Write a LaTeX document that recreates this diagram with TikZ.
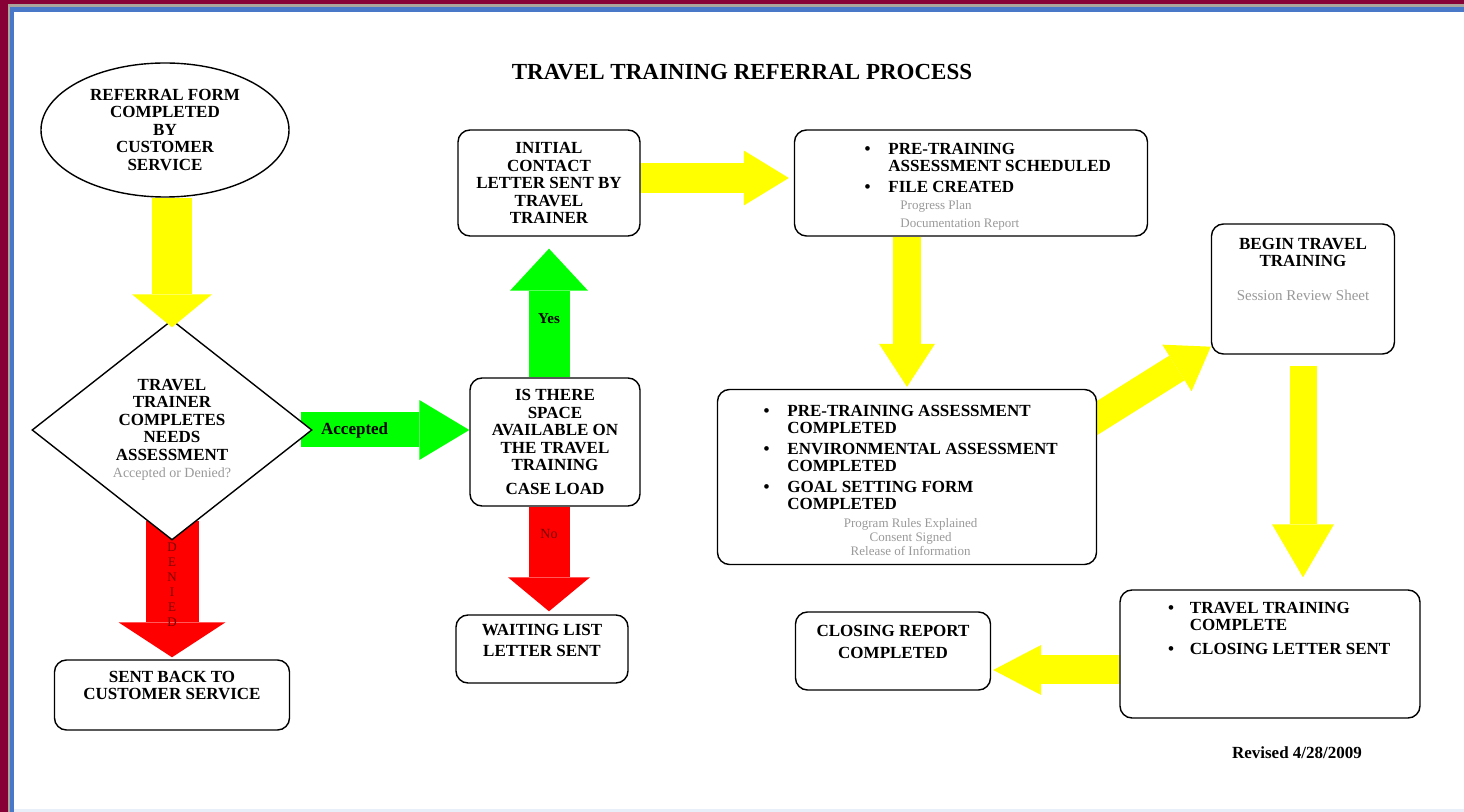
\documentclass[tikz,border=0pt]{standalone}
\usepackage{fontspec}
\setmainfont{Liberation Serif}
\usepackage{xcolor}
\usetikzlibrary{shapes.geometric, arrows.meta, backgrounds}

\definecolor{framered}{HTML}{870036}
\definecolor{framegrey}{HTML}{A9A49C}
\definecolor{frameblue}{HTML}{4A78C8}
\definecolor{arrowyellow}{HTML}{FFFF00}
\definecolor{arrowgreen}{HTML}{00FF00}
\definecolor{arrowred}{HTML}{FF0000}
\definecolor{notegrey}{HTML}{9A9A9A}
\definecolor{darkred}{HTML}{7A0000}

\newcommand{\bodyfont}{\fontsize{8.5}{8.75}\selectfont\bfseries}
\newcommand{\notefont}{\fontsize{6.5}{7}\selectfont\mdseries\color{notegrey}}

\begin{document}
\begin{tikzpicture}[x=0.5pt, y=-0.5pt,
    box/.style={draw, line width=0.7pt, rounded corners=6pt, fill=white, inner sep=0pt, font=\bodyfont, align=center},
    fat/.style args={#1/#2/#3}{line width=#1, -{Triangle[width=#2 0, length=#3 0 0, line width=0pt]}}]
    \useasboundingbox (0,0) rectangle (1464,812);

    % Tieu de
    \node[font=\fontsize{11.5}{12}\selectfont\bfseries] (title) at (742,72) {TRAVEL TRAINING REFERRAL PROCESS};

    % Cot trai
    \node[ellipse, draw, line width=0.7pt, fill=white, minimum width=124pt, minimum height=67pt, inner sep=0pt, font=\bodyfont, align=center] (referral) at (165,130)
        {REFERRAL FORM\\COMPLETED\\BY\\CUSTOMER\\SERVICE};
    \node[diamond, draw, line width=0.7pt, fill=white, aspect=1.27, minimum width=140pt, minimum height=110pt, inner sep=0pt, font=\bodyfont, align=center] (assess) at (172,430)
        {TRAVEL\\TRAINER\\COMPLETES\\NEEDS\\ASSESSMENT\\{\fontsize{7}{8}\selectfont\mdseries\color{notegrey}Accepted or Denied?}};
    \node[box, minimum width=117.5pt, minimum height=35pt] (sentback) at (172,695) {\parbox[c][24pt][t]{117.5pt}{\centering SENT BACK TO\\CUSTOMER SERVICE}};

    % Cot giua
    \node[box, minimum width=91pt, minimum height=53pt] (contact) at (549,183) {INITIAL\\CONTACT\\LETTER SENT BY\\TRAVEL\\TRAINER};
    \node[box, minimum width=85pt, minimum height=64pt] (space) at (555,442) {IS THERE\\SPACE\\AVAILABLE ON\\THE TRAVEL\\TRAINING\\[3pt]CASE LOAD};
    \node[box, minimum width=86pt, minimum height=34pt] (waiting) at (542,649) {\parbox[c][25pt][t]{86pt}{\centering WAITING LIST\\[2pt]LETTER SENT}};

    % Cot phai
    \node[box, minimum width=176.5pt, minimum height=53pt] (scheduled) at (971,183) {\parbox[c][41pt][t]{176.5pt}{\hspace*{35pt}\begin{tabular}[t]{@{}l@{\hspace{9pt}}l@{}}
        \textbullet & PRE-TRAINING\\ & ASSESSMENT SCHEDULED\\[1.5pt]
        \textbullet & FILE CREATED\\
        & \hspace*{6pt}{\notefont Progress Plan}\\
        & \hspace*{6pt}{\notefont Documentation Report}\end{tabular}}};
    \node[box, minimum width=189.5pt, minimum height=87.5pt] (completed) at (907,477) {\parbox[c][73pt][t]{189.5pt}{\hspace*{23pt}\begin{tabular}[t]{@{}l@{\hspace{9pt}}l@{}}
        \textbullet & PRE-TRAINING ASSESSMENT\\ & COMPLETED\\[1.5pt]
        \textbullet & ENVIRONMENTAL ASSESSMENT\\ & COMPLETED\\[1.5pt]
        \textbullet & GOAL SETTING FORM\\ & COMPLETED\\
        \multicolumn{2}{c}{\notefont\begin{tabular}[t]{@{}c@{}}Program Rules Explained\\Consent Signed\\Release of Information\end{tabular}}\end{tabular}}};
    \node[box, minimum width=91.5pt, minimum height=65pt] (begin) at (1303,289) {\parbox[c][51pt][t]{88pt}{\centering BEGIN TRAVEL\\TRAINING\\[8pt]{\fontsize{7.5}{8}\selectfont\mdseries\color{notegrey}Session Review Sheet}}};
    \node[box, minimum width=150pt, minimum height=64pt] (finished) at (1270,654) {\parbox[c][53pt][t]{150pt}{\hspace*{24pt}\begin{tabular}[t]{@{}l@{\hspace{8pt}}l@{}}
        \textbullet & TRAVEL TRAINING\\ & COMPLETE\\[3pt]
        \textbullet & CLOSING LETTER SENT\end{tabular}}};
    \node[box, minimum width=97.5pt, minimum height=39pt] (closing) at (893,651) {\parbox[c][25.5pt][t]{97.5pt}{\centering CLOSING REPORT\\[2pt]COMPLETED}};

    \node[font=\bodyfont] (revised) at (1297,753) {Revised 4/28/2009};

    % Khung va mui ten nam duoi cac hop
    \begin{scope}[on background layer]
        \fill[framered] (0,0) rectangle (1464,812);
        \fill[framegrey] (8,4) rectangle (1464,812);
        \fill[frameblue] (10,7) rectangle (1464,812);
        \fill[white] (14,12) rectangle (1464,809);
        \fill[frameblue!12] (14,809) rectangle (1464,812);
        \draw[arrowred, fat=26.5pt/53.5pt/17.5pt, shorten >=1pt] ([yshift=10pt]assess.south) -- node[pos=0.46, text=darkred, font=\fontsize{6.5}{7.5}\selectfont, align=center] {D\\E\\N\\I\\E\\D} (sentback.north);
        \draw[arrowgreen, fat=17.5pt/30pt/25pt] ([xshift=-6pt]assess.east) -- node[pos=0.32, text=black, font=\bodyfont] {Accepted} (assess.east -| space.west);
        \draw[arrowyellow, fat=14.5pt/27.5pt/20pt] ([xshift=-4pt, yshift=27pt]completed.east) -- ([yshift=4pt]begin.south west);
    \end{scope}

    % Mui ten
    \draw[arrowyellow, fat=20pt/40pt/16.5pt, shorten >=-4pt] (referral.south -| assess.north) -- (assess.north);
    \draw[arrowgreen, fat=20.5pt/39pt/21pt, shorten >=6pt] (space.north -| contact.south) -- node[pos=0.42, text=black, font=\fontsize{7.5}{8}\selectfont\bfseries] {Yes} (contact.south);
    \draw[arrowred, fat=20.5pt/41pt/17pt, shorten >=1.5pt] (space.south -| contact.south) -- node[pos=0.25, text=darkred, font=\fontsize{7}{8}\selectfont] {No} (waiting.north -| contact.south);
    \draw[arrowyellow, fat=15pt/27.5pt/22.5pt, shorten >=2.5pt] ([yshift=2.5pt]contact.east) -- ([yshift=2.5pt]contact.east -| scheduled.west);
    \draw[arrowyellow, fat=14pt/28pt/21.5pt, shorten >=1pt] (scheduled.south -| completed.north) -- (completed.north);
    \draw[arrowyellow, fat=13.5pt/31pt/26.5pt, shorten <=5.5pt, shorten >=6pt] (begin.south) -- (begin.south |- finished.north);
    \draw[arrowyellow, fat=14.5pt/25pt/24pt, shorten >=1pt] ([yshift=-8pt]finished.west) -- ([yshift=-8pt]finished.west -| closing.east);
\end{tikzpicture}
\end{document}
